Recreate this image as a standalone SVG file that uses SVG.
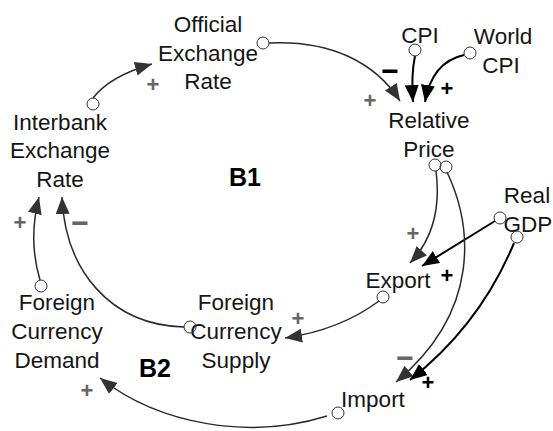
<svg xmlns="http://www.w3.org/2000/svg" width="553" height="431" viewBox="0 0 553 431">
<style>
.lbl{font-family:"Liberation Sans",Arial,sans-serif;font-size:22.5px;fill:#151515;text-anchor:middle}
.loop{font-family:"Liberation Sans",Arial,sans-serif;font-size:25px;font-weight:bold;fill:#000;text-anchor:middle}
.sg{font-family:"Liberation Sans",Arial,sans-serif;font-size:22px;font-weight:bold;fill:#666;text-anchor:middle;dominant-baseline:central}
.sb{font-family:"Liberation Sans",Arial,sans-serif;font-size:22px;font-weight:bold;fill:#000;text-anchor:middle;dominant-baseline:central}
.m{font-size:30px}
.c{fill:none;stroke:#333;stroke-width:1}
.ld{fill:none;stroke:#2a2a2a;stroke-width:1.5}
.lb{fill:none;stroke:#000;stroke-width:2}
</style>
<defs>
<marker id="ad" markerUnits="userSpaceOnUse" markerWidth="19" markerHeight="15" refX="17" refY="7" orient="auto"><path d="M0,0 L17,7 L0,14 z" fill="#333"/></marker>
<marker id="ab" markerUnits="userSpaceOnUse" markerWidth="19" markerHeight="15" refX="17" refY="7" orient="auto"><path d="M0,0 L17,7 L0,14 z" fill="#000"/></marker>
</defs>
<rect width="553" height="431" fill="#fff"/>
<g id="connectors">
<path class="ld" d="M93,98 Q110,76 152,64" marker-end="url(#ad)"/>
<path class="ld" d="M269,43 C330,40 375,62 400,101" marker-end="url(#ad)"/>
<path class="lb" d="M415,56 Q411,75 413,102" marker-end="url(#ab)"/>
<path class="lb" d="M464,55 Q432,62 425,102" marker-end="url(#ab)"/>
<path class="ld" d="M436,171 C441,210 432,240 410,263" marker-end="url(#ad)"/>
<path class="lb" d="M495,221 L422,266" marker-end="url(#ab)"/>
<path class="ld" d="M447,172 C472,225 482,310 396,382" marker-end="url(#ad)"/>
<path class="lb" d="M514,243 Q480,325 410,380" marker-end="url(#ab)"/>
<path class="ld" d="M379,301 Q340,330 285,338" marker-end="url(#ad)"/>
<path class="ld" d="M327,416 C250,440 160,425 100,378" marker-end="url(#ad)"/>
<path class="ld" d="M40,280 Q28,240 39,197" marker-end="url(#ad)"/>
<path class="ld" d="M184,327 C110,325 65,270 62,197" marker-end="url(#ad)"/>
</g>
<g id="official"><text class="lbl" x="208" y="32">Official</text><text class="lbl" x="208" y="61">Exchange</text><text class="lbl" x="208" y="89">Rate</text><circle class="c" cx="263" cy="43" r="6"/></g>
<g id="interbank"><text class="lbl" x="60" y="130">Interbank</text><text class="lbl" x="60" y="158">Exchange</text><text class="lbl" x="60" y="187">Rate</text><circle class="c" cx="93" cy="104" r="6"/></g>
<g id="cpi"><text class="lbl" x="420" y="43">CPI</text><circle class="c" cx="415" cy="50" r="6"/></g>
<g id="worldcpi"><text class="lbl" x="503" y="44">World</text><text class="lbl" x="501" y="73">CPI</text><circle class="c" cx="470" cy="53" r="6"/></g>
<g id="relative"><text class="lbl" x="429" y="128">Relative</text><text class="lbl" x="429" y="157">Price</text><circle class="c" cx="435" cy="165" r="6"/><circle class="c" cx="446" cy="167" r="6"/></g>
<g id="realgdp"><text class="lbl" x="527" y="203">Real</text><text class="lbl" x="528" y="232">GDP</text><circle class="c" cx="500" cy="218" r="6"/><circle class="c" cx="517" cy="237" r="6"/></g>
<g id="export"><text class="lbl" x="398" y="288">Export</text><circle class="c" cx="383" cy="297" r="6"/></g>
<g id="import"><text class="lbl" x="373" y="407">Import</text><circle class="c" cx="338" cy="413" r="6"/></g>
<g id="demand"><text class="lbl" x="57" y="310">Foreign</text><text class="lbl" x="57" y="339">Currency</text><text class="lbl" x="57" y="368">Demand</text><circle class="c" cx="41" cy="286" r="6"/></g>
<g id="supply"><text class="lbl" x="236" y="310">Foreign</text><text class="lbl" x="236" y="339">Currency</text><text class="lbl" x="236" y="368">Supply</text><circle class="c" cx="190" cy="327" r="6"/></g>
<g id="loops"><text class="loop" x="245" y="186">B1</text><text class="loop" x="155" y="377">B2</text></g>
<g id="polarity">
<text class="sg" x="153" y="84">+</text>
<text class="sg" x="370" y="100">+</text>
<text class="sb m" x="390" y="70">−</text>
<text class="sb" x="447" y="88">+</text>
<text class="sg" x="413" y="233">+</text>
<text class="sb" x="447" y="275">+</text>
<text class="sg" x="298" y="318">+</text>
<text class="sg m" x="405" y="357">−</text>
<text class="sb" x="428" y="382">+</text>
<text class="sg" x="87" y="390">+</text>
<text class="sg" x="20" y="222">+</text>
<text class="sg m" x="80" y="222">−</text>
</g>
</svg>
